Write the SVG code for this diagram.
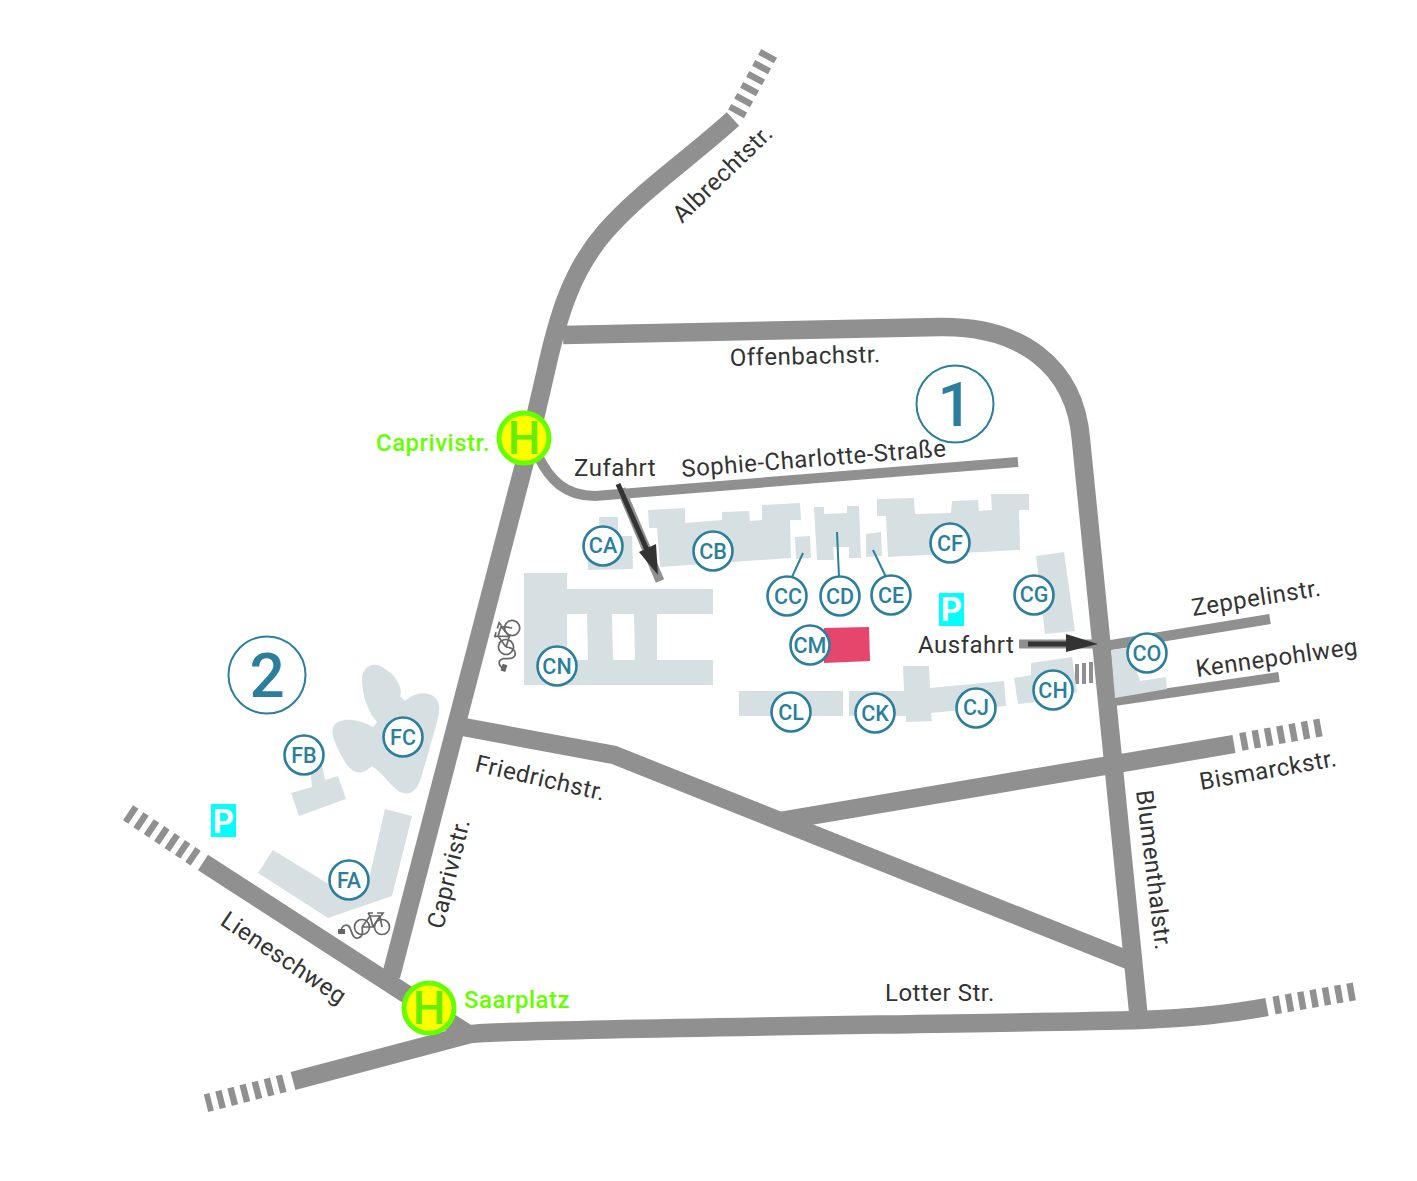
<svg xmlns="http://www.w3.org/2000/svg" width="1417" height="1181" viewBox="0 0 1417 1181">
<style>
text{font-family:Roboto,"Liberation Sans",sans-serif}
.road{fill:none;stroke:#909090;stroke-width:18.500}
.road2{fill:none;stroke:#909090;stroke-width:10}
.dash{fill:none;stroke:#909090;stroke-width:18;stroke-dasharray:6.500 6}
.b{fill:#d6e0e3}
.st{font-size:24px;fill:#333;letter-spacing:.5px}
.c{fill:#fff;stroke:#2b7f9c;stroke-width:2.600}
.cl{font-size:21.500px;font-weight:500;fill:#2b7f9c;text-anchor:middle}
.lead{stroke:#2b7f9c;stroke-width:2;fill:none}
.big{font-size:62px;font-weight:500;fill:#2b7f9c;text-anchor:middle}
.bigc{fill:#fff;stroke:#2b7f9c;stroke-width:2}
.hc{fill:#ffff00;stroke:#66ff00;stroke-width:5}
.ht{font-size:46px;font-weight:500;fill:#66ee00;text-anchor:middle}
.hl{font-size:24px;font-weight:500;fill:#66ff00;letter-spacing:.5px}
.p{fill:#00ffff}
.pt{font-size:33px;font-weight:700;fill:#fff;text-anchor:middle}
.bk{fill:none;stroke:#666;stroke-width:1.700}
</style>
<defs>
<symbol id="bike" overflow="visible">
<g class="bk">
<circle cx="0" cy="0" r="7.500"/><circle cx="20" cy="0" r="7.500"/>
<path d="M0 0L8 -11H18L20 0M8 -11L11 0H0M18 -11L11 0M6 -14H11M15 -14H21L19 -11M8 -11L6 -14"/>
<path d="M-21 3C-19 -3 -14 -3 -12 1C-10 6 -9 12 -4 11C1 10 1 5 0 0"/>
</g>
<rect x="-24" y="2" width="7" height="5" fill="#666"/>
</symbol>
</defs>

<g id="connectors">
<path id="caprivi" class="road" d="M391 976L524 465L545 375C558 315 572 270 605 232C640 192 690 158 733 119"/>
<path class="road" d="M563 335L940 327C1020 326 1075 365 1081 440L1139 1020"/>
<path class="road" d="M203 862.500L400 990L468 1034"/>
<path class="road" d="M293 1081L470 1034C520 1028 1000 1024 1140 1020C1190 1018 1230 1014 1267 1007"/>
<path class="road" d="M458 726L614 755L1128 960"/>
<path class="road" d="M780 821L1234 744"/>
<path class="road2" d="M538 456C550 480 565 496 595 496L1018 462"/>
<path class="road2" d="M1105 646L1270 619"/>
<path class="road2" d="M1114 701L1279 677"/>
<path class="dash" d="M736.100 113.900L769.300 53.100"/>
<path class="dash" d="M1240.800 741.900L1321.200 727.400"/>
<path class="dash" d="M1274 1005.500L1354.500 991.400"/>
<path class="dash" d="M284.300 1083.200L206 1103.200"/>
<path class="dash" d="M195.700 858.100L127.300 812.200"/>
<path d="M1077 664V684M1084 663V684M1091 662V683" fill="none" stroke="#909090" stroke-width="4"/>
</g>

<g id="buildings">
<path class="b" d="M599 517H618L618 536H632L633 569L588 570V560L600 556Z"/>
<path class="b" d="M648 510L685 508V523L722 520V512L749 511L750 521L762 520V505L800 503L801 520H790L791 558L660 567L657 528L649 528Z"/>
<path class="b" d="M795 537L810 536L811 558L796 559Z"/>
<path class="b" d="M814 507H824V514L847 513V506L859 506L861 558H849V547L833 547L834 560H817Z"/>
<path class="b" d="M866 534L881 532L882 556L866 557Z"/>
<path class="b" d="M877 499L914 498L915 514L951 513L952 501L978 500L979 511L992 510L991 494H1029L1029 510L1019 510L1020 550L888 557L886 516L877 516Z"/>
<path class="b" d="M1036 556L1064 552L1075 631L1045 634Z"/>
<path class="b" d="M524 573H567V589H713V614H657V660H713V685H524ZM567 614V660H588L587 614ZM612 614L613 660H635L634 614Z" fill-rule="evenodd"/>
<path class="b" d="M739 691H843V716H739Z"/>
<path class="b" d="M849 691H904L903 666H929L930 688L1004 681L1006 706L931 713L932 721L906 722V716H849Z"/>
<path class="b" d="M1014 678L1031 675V663L1072 657L1077 692L1055 700L1018 704Z"/>
<path class="b" d="M1111 650L1129 648L1140 681L1166 677L1167 689L1115 698Z"/>
<path class="b" d="M291 793L312 787L310 768L303 752L321 760L325 780L338 776L346 799L299 816Z"/>
<path class="b" d="M385 809L412 816L392 896L328 918L258 873L273 850L330 885L366 892Z"/>
<path class="b" d="M362 680C362 665 375 660 387 670C398 678 403 690 400 696L405 701C415 692 430 690 437 700C441 706 439 712 437 722L422 775C417 792 410 796 400 792C392 788 385 775 372 766L367 770C358 776 350 770 345 762C338 750 330 735 333 727C338 718 355 717 373 727L377 722C368 712 362 695 362 680Z"/>
<path d="M824 628L869 627L870 661L824 663Z" fill="#e6466c"/>
</g>

<g id="arrows">
<path d="M621 489L660 581" fill="none" stroke="#909090" stroke-width="9"/>
<path d="M618 484L647 550" fill="none" stroke="#333" stroke-width="5"/>
<path d="M639 552L656 544L658 575Z" fill="#333"/>
<path d="M1019 644H1095" fill="none" stroke="#909090" stroke-width="9"/>
<path d="M1028 644H1070" fill="none" stroke="#333" stroke-width="5"/>
<path d="M1066 634L1098 644L1066 652Z" fill="#333"/>
</g>

<g id="streets">
<text class="st" transform="translate(682 224) rotate(-44)">Albrechtstr.</text>
<text class="st" x="730" y="366" transform="rotate(-1.500 730 366)">Offenbachstr.</text>
<text class="st" x="682" y="477" transform="rotate(-4.500 682 477)">Sophie-Charlotte-Straße</text>
<text class="st" x="574" y="476">Zufahrt</text>
<text class="st" x="918" y="653">Ausfahrt</text>
<text class="st" transform="translate(1193 616) rotate(-9)">Zeppelinstr.</text>
<text class="st" transform="translate(1197 677) rotate(-8)">Kennepohlweg</text>
<text class="st" transform="translate(1201 790) rotate(-10)">Bismarckstr.</text>
<text class="st" transform="translate(1136 791) rotate(83)">Blumenthalstr.</text>
<text class="st" transform="translate(474 771) rotate(13)">Friedrichstr.</text>
<text class="st" transform="translate(443 930) rotate(-76)">Caprivistr.</text>
<text class="st" transform="translate(219 924) rotate(34)">Lieneschweg</text>
<text class="st" x="885" y="1001">Lotter Str.</text>
</g>

<g id="bikes">
<use href="#bike" transform="translate(362 927)"/>
<use href="#bike" transform="translate(506 647) rotate(-72)"/>
</g>

<g id="parking">
<rect class="p" x="939" y="593" width="25" height="33"/><text class="pt" x="951.500" y="621">P</text>
<rect class="p" x="211" y="804" width="25" height="33"/><text class="pt" x="223.500" y="833">P</text>
</g>

<g id="area1"><circle class="bigc" cx="955" cy="404" r="38.500"/><text class="big" x="955" y="426">1</text></g>
<g id="area2"><circle class="bigc" cx="267" cy="675" r="38.500"/><text class="big" x="267" y="697">2</text></g>

<g id="CA"><circle class="c" cx="603" cy="546" r="19.500"/><text class="cl" x="603" y="553">CA</text></g>
<g id="CB"><circle class="c" cx="713" cy="551" r="19.500"/><text class="cl" x="713" y="559">CB</text></g>
<g id="CC"><path class="lead" d="M803 553L792 577"/><circle class="c" cx="787" cy="596" r="19.500"/><text class="cl" x="788" y="604">CC</text></g>
<g id="CD"><path class="lead" d="M837 532L839 577"/><circle class="c" cx="840" cy="596" r="19.500"/><text class="cl" x="840" y="604">CD</text></g>
<g id="CE"><path class="lead" d="M873 550L886 577"/><circle class="c" cx="891" cy="595" r="19.500"/><text class="cl" x="891" y="603">CE</text></g>
<g id="CF"><circle class="c" cx="950" cy="543" r="19.500"/><text class="cl" x="950" y="551">CF</text></g>
<g id="CG"><circle class="c" cx="1034" cy="595" r="19.500"/><text class="cl" x="1034" y="602">CG</text></g>
<g id="CH"><circle class="c" cx="1053" cy="690" r="19.500"/><text class="cl" x="1053" y="698">CH</text></g>
<g id="CJ"><circle class="c" cx="976" cy="708" r="19.500"/><text class="cl" x="976" y="715">CJ</text></g>
<g id="CK"><circle class="c" cx="875" cy="713" r="19.500"/><text class="cl" x="875" y="721">CK</text></g>
<g id="CL"><circle class="c" cx="791" cy="712" r="19.500"/><text class="cl" x="791" y="720">CL</text></g>
<g id="CM"><circle class="c" cx="810" cy="645" r="19.500"/><text class="cl" x="810" y="653">CM</text></g>
<g id="CN"><circle class="c" cx="557" cy="666" r="19.500"/><text class="cl" x="557" y="674">CN</text></g>
<g id="CO"><circle class="c" cx="1147" cy="653" r="19.500"/><text class="cl" x="1147" y="661">CO</text></g>
<g id="FA"><circle class="c" cx="349" cy="880" r="19.500"/><text class="cl" x="349" y="888">FA</text></g>
<g id="FB"><circle class="c" cx="304" cy="755" r="19.500"/><text class="cl" x="304" y="763">FB</text></g>
<g id="FC"><circle class="c" cx="403" cy="737" r="19.500"/><text class="cl" x="403" y="745">FC</text></g>

<g id="stop-caprivistr"><circle class="hc" cx="524" cy="438" r="25"/><text class="ht" x="524" y="454">H</text><text class="hl" x="376" y="451">Caprivistr.</text></g>
<g id="stop-saarplatz"><circle class="hc" cx="429" cy="1008" r="25"/><text class="ht" x="429" y="1024">H</text><text class="hl" x="464" y="1008">Saarplatz</text></g>
</svg>
